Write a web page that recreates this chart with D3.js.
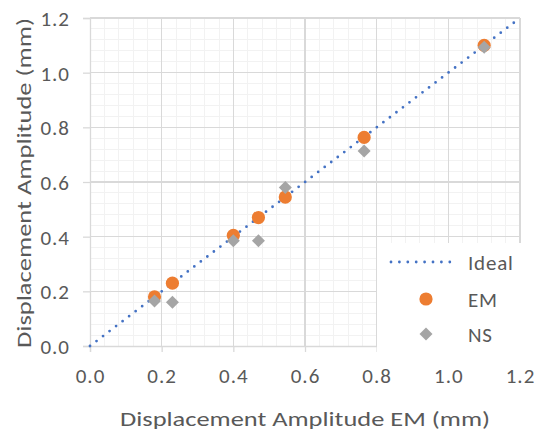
<!DOCTYPE html>
<html>
<head>
<meta charset="utf-8">
<script src="https://cdn.jsdelivr.net/npm/d3@7"></script>
<style>
  html, body { margin: 0; padding: 0; background: #fff; }
  svg { display: block; }
  text { font-family: Carlito, Lato, "Open Sans", sans-serif; fill: #595959; }
</style>
</head>
<body>
<svg id="chart" width="540" height="437"></svg>
<script>
// Measured displacement amplitudes (mm)
const emX = [0.18, 0.23, 0.40, 0.47, 0.545, 0.765, 1.10];
const emY = [0.18, 0.23, 0.405, 0.47, 0.545, 0.763, 1.10];
const nsX = [0.18, 0.23, 0.40, 0.47, 0.545, 0.765, 1.10];
const nsY = [0.165, 0.16, 0.385, 0.385, 0.58, 0.713, 1.093];
const idealLine = [[0, 0], [1.2, 1.2]];
const tickValues = [0, 0.2, 0.4, 0.6, 0.8, 1.0, 1.2];
const minorTickValues = d3.range(0, 1.2001, 0.04);
const legendNames = ["Ideal", "EM", "NS"];

const colors = { ideal: "#4472C4", em: "#ED7D31", ns: "#A5A5A5" };

const svg = d3.select("#chart");
const m = { left: 90, top: 18, right: 20, bottom: 91 };
const W = 540, H = 437;
const pw = W - m.left - m.right, ph = H - m.top - m.bottom;

const x = d3.scaleLinear().domain([0, 1.2]).range([m.left, m.left + pw]);
const y = d3.scaleLinear().domain([0, 1.2]).range([m.top + ph, m.top]);

// Minor gridlines
const grid = svg.append("g");
grid.selectAll(".vminor").data(minorTickValues).join("line")
  .attr("x1", d => x(d)).attr("x2", d => x(d))
  .attr("y1", y(0)).attr("y2", y(1.2))
  .attr("stroke", "#F2F2F2").attr("stroke-width", 1).attr("shape-rendering", "crispEdges");
grid.selectAll(".hminor").data(minorTickValues).join("line")
  .attr("y1", d => y(d)).attr("y2", d => y(d))
  .attr("x1", x(0)).attr("x2", x(1.2))
  .attr("stroke", "#F2F2F2").attr("stroke-width", 1).attr("shape-rendering", "crispEdges");

// Major gridlines
grid.selectAll(".vmajor").data(tickValues.slice(1)).join("line")
  .attr("x1", d => x(d)).attr("x2", d => x(d))
  .attr("y1", y(0)).attr("y2", y(1.2))
  .attr("stroke", "#D9D9D9").attr("stroke-width", 1.3).attr("shape-rendering", "crispEdges");
grid.selectAll(".hmajor").data(tickValues.slice(1)).join("line")
  .attr("y1", d => y(d)).attr("y2", d => y(d))
  .attr("x1", x(0)).attr("x2", x(1.2))
  .attr("stroke", "#D9D9D9").attr("stroke-width", 1.3).attr("shape-rendering", "crispEdges");

// Axes
const fmt = d3.format(".1f");
const xAxis = svg.append("g")
  .attr("transform", `translate(0,${y(0)})`)
  .call(d3.axisBottom(x).tickValues(tickValues).tickFormat(fmt).tickSize(6).tickPadding(16));
const yAxis = svg.append("g")
  .attr("transform", `translate(${x(0)},0)`)
  .call(d3.axisLeft(y).tickValues(tickValues).tickFormat(fmt).tickSize(7).tickPadding(13));
[xAxis, yAxis].forEach(a => {
  a.select(".domain").attr("stroke", "#D9D9D9").attr("stroke-width", 1.3);
  a.selectAll(".tick line").attr("stroke", "#D9D9D9").attr("stroke-width", 1.3);
  a.selectAll(".tick text").attr("font-size", 21).attr("fill", "#595959")
    .attr("letter-spacing", 1)
    .attr("font-family", "Carlito, Lato, 'Open Sans', sans-serif");
});
yAxis.selectAll(".tick text").attr("dy", "0.36em");

// Ideal 1:1 line
const line = d3.line().x(d => x(d[0])).y(d => y(d[1]));
svg.append("path").datum(idealLine)
  .attr("d", line)
  .attr("fill", "none")
  .attr("stroke", colors.ideal)
  .attr("stroke-width", 2.8)
  .attr("stroke-linecap", "round")
  .attr("stroke-dasharray", "0 8.2");

// EM series
const emData = emX.map((v, i) => [v, emY[i]]);
svg.append("g").selectAll("circle").data(emData).join("circle")
  .attr("cx", d => x(d[0])).attr("cy", d => y(d[1]))
  .attr("r", 6.6).attr("fill", colors.em);

// NS series
const nsData = nsX.map((v, i) => [v, nsY[i]]);
const diamond = s => `M0,${-s}L${s},0L0,${s}L${-s},0Z`;
svg.append("g").selectAll("path").data(nsData).join("path")
  .attr("transform", d => `translate(${x(d[0])},${y(d[1])})`)
  .attr("d", diamond(6.5)).attr("fill", colors.ns);

// Legend
const lg = svg.append("g");
lg.append("rect").attr("x", 377).attr("y", 243).attr("width", 163).attr("height", 115).attr("fill", "#fff");
const ly = [262, 299, 334];
lg.append("line")
  .attr("x1", 391).attr("x2", 451).attr("y1", ly[0]).attr("y2", ly[0])
  .attr("stroke", colors.ideal).attr("stroke-width", 2.8)
  .attr("stroke-linecap", "round").attr("stroke-dasharray", "0 8.4");
lg.append("circle").attr("cx", 426).attr("cy", ly[1]).attr("r", 6.6).attr("fill", colors.em);
lg.append("path").attr("transform", `translate(426,${ly[2]})`).attr("d", diamond(6.5)).attr("fill", colors.ns);
lg.selectAll("text").data(legendNames).join("text")
  .attr("x", 468).attr("y", (d, i) => ly[i]).attr("dy", "0.36em")
  .attr("font-size", 21).attr("letter-spacing", 0.8).text(d => d);

// Axis titles
svg.append("text")
  .attr("x", x(0.6)).attr("y", 426)
  .attr("text-anchor", "middle").attr("font-size", 21)
  .attr("textLength", 370).attr("lengthAdjust", "spacingAndGlyphs")
  .text("Displacement Amplitude EM (mm)");
svg.append("text")
  .attr("transform", "translate(31,183) rotate(-90)")
  .attr("text-anchor", "middle").attr("font-size", 21)
  .attr("textLength", 330).attr("lengthAdjust", "spacingAndGlyphs")
  .text("Displacement Amplitude (mm)");
</script>
</body>
</html>
